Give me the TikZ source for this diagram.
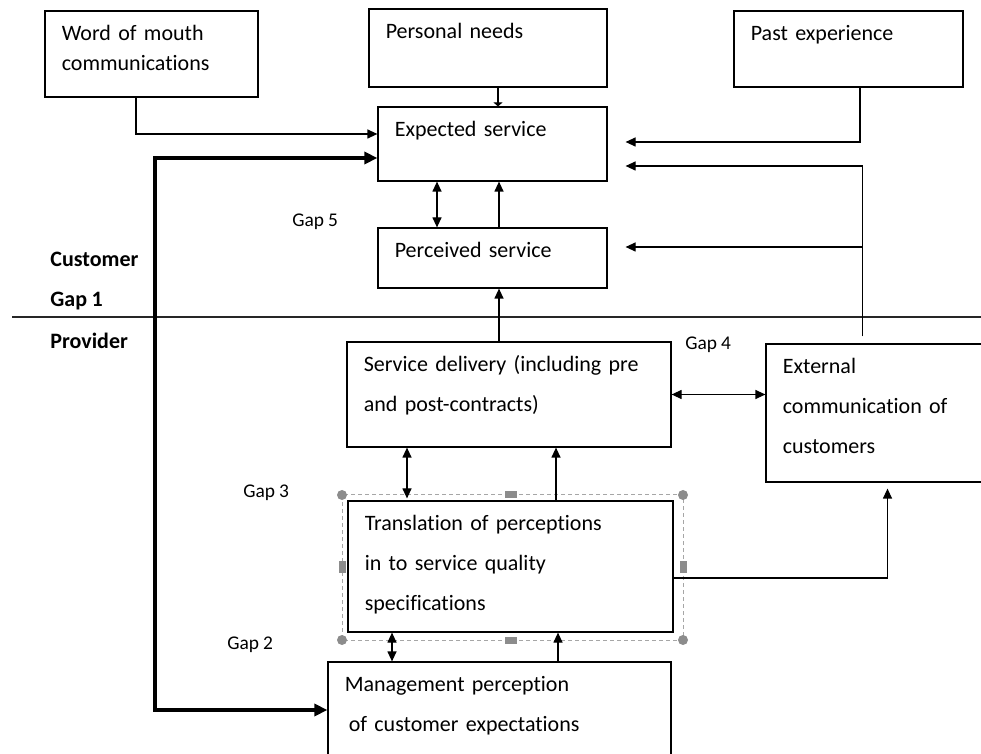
\documentclass[tikz,border=0pt]{standalone}
\usepackage{fontspec}
\setmainfont{Carlito}[Ligatures=NoCommon, WordSpace=0.9]
\usepackage{tikz}
\usetikzlibrary{positioning,arrows.meta,fit,calc}
\usepackage{xcolor}
\definecolor{handlegray}{HTML}{8C8C8C}
\definecolor{framegray}{HTML}{A6A6A6}

\begin{document}
\begin{tikzpicture}[
    x=0.5pt, y=-0.5pt,
    box/.style={draw, line width=0.6pt, inner sep=0pt},
    boxText/.style={anchor=base west, inner sep=0pt, xshift=8.5pt, yshift=-15pt, text width=6cm, align=left, font=\fontsize{11}{20}\selectfont},
    gapLabel/.style={anchor=base west, inner sep=0pt, font=\fontsize{9.7}{12}\selectfont},
    sideLabel/.style={anchor=base west, inner sep=0pt, font=\bfseries\fontsize{11}{13}\selectfont},
    link/.style={line width=0.6pt, -{Triangle[length=5pt, width=4.5pt]}},
    twoWay/.style={line width=0.6pt, {Triangle[length=5pt, width=4.5pt]}-{Triangle[length=5pt, width=4.5pt]}},
    thickRail/.style={line width=1.6pt, {Triangle[length=6.5pt, width=6pt]}-{Triangle[length=6.5pt, width=6pt]}}
]
    \useasboundingbox (0,0) rectangle (981,754);

    % Customer side boxes
    \node[box, fit={(45,11) (258,97)}, label={[boxText, font=\fontsize{11}{15}\selectfont]north west:{Word of mouth\\communications}}] (wom) {};
    \node[box, fit={(369,9) (607,87)}, label={[boxText]north west:Personal needs}] (needs) {};
    \node[box, fit={(734,11) (963,87)}, label={[boxText]north west:Past experience}] (past) {};
    \node[box, fit={(378,107) (607,181)}, label={[boxText]north west:Expected service}] (expected) {};
    \node[box, fit={(378,228) (607,288)}, label={[boxText]north west:Perceived service}] (perceived) {};

    % Provider side boxes
    \node[box, fit={(347,342) (671,447)}, label={[boxText]north west:{Service delivery (including pre\\and post-contracts)}}] (delivery) {};
    \node[box, fit={(766,344) (995,482)}, label={[boxText]north west:{External\\communication of\\customers}}] (external) {};
    \node[box, fit={(348,501) (673,632)}, label={[boxText]north west:{Translation of perceptions\\in to service quality\\specifications}}] (translation) {};
    \node[box, fit={(328,662) (671,770)}, label={[boxText]north west:{Management perception\\\hspace*{2pt}of customer expectations}}] (management) {};

    % Selection frame round the translation box
    \draw[framegray, line width=0.5pt, dash pattern=on 2pt off 1.5pt] (342,495) rectangle (683,640);
    \foreach \cx/\cy in {342/495, 683/495, 342/640, 683/640}
        \fill[handlegray] (\cx,\cy) circle (2.5pt);
    \foreach \cx/\cy in {511/495, 511/640}
        \fill[handlegray] (\cx-6,\cy-3.5) rectangle (\cx+6,\cy+3.5);
    \foreach \cx/\cy in {342/567, 683/567}
        \fill[handlegray] (\cx-3.5,\cy-6) rectangle (\cx+3.5,\cy+6);

    % Divider and side labels
    \draw[black!85, line width=0.7pt] (12,317) -- (981,317);
    \node[sideLabel] (customer) at (50,267) {Customer};
    \node[sideLabel] (gap1) at (50,307) {Gap 1};
    \node[sideLabel] (provider) at (50,349) {Provider};
    \node[gapLabel] (gap5) at (292,227) {Gap 5};
    \node[gapLabel] (gap4) at (685,350) {Gap 4};
    \node[gapLabel] (gap3) at (243,497) {Gap 3};
    \node[gapLabel] (gap2) at (227,649) {Gap 2};

    % Inputs to expected service
    \draw[link] ([xshift=-7.75pt]wom.south) |- ([yshift=5pt]expected.west);
    \draw[line width=0.6pt, -{Triangle[length=2pt, width=4.5pt]}] ([xshift=5pt]needs.south) -- ([xshift=5pt]needs.south |- expected.north);
    \draw[link, shorten >=9pt] ([xshift=5.75pt]past.south) |- ([yshift=1pt]expected.east);
    \coordinate (rail) at (155,400);
    \draw[thickRail] ([yshift=-7pt]expected.west) -| (rail) |- ([yshift=3pt]management.west);

    % Expected / perceived
    \draw[twoWay] ([xshift=-27.75pt]expected.south) -- ([xshift=-27.75pt]expected.south |- perceived.north);
    \draw[link] ([xshift=3.25pt]perceived.north) -- ([xshift=3.25pt]perceived.north |- expected.south);
    \draw[link] ([xshift=-5pt]delivery.north) -- ([xshift=-5pt]delivery.north |- perceived.south);

    % External communication feeds back
    \coordinate (extUp) at ([xshift=-9pt, yshift=3.5pt]external.north);
    \draw[link, shorten >=9pt] (extUp) |- ([yshift=-11pt]expected.east);
    \draw[link, shorten >=9pt] ([yshift=5.5pt]perceived.east -| extUp) -- ([yshift=5.5pt]perceived.east);
    \draw[twoWay] (delivery.east) -- (delivery.east -| external.west);

    % Provider chain
    \draw[twoWay, shorten >=1pt] ([xshift=-51pt]delivery.south) -- ([xshift=-51pt]delivery.south |- translation.north);
    \draw[link] ([xshift=23.5pt]delivery.south |- translation.north) -- ([xshift=23.5pt]delivery.south);
    \draw[link, shorten >=3pt] ([yshift=-5.75pt]translation.east) -| ([xshift=3.5pt]external.south);
    \draw[twoWay] ([xshift=-59.25pt]translation.south) -- ([xshift=-59.25pt]translation.south |- management.north);
    \draw[link] ([xshift=23.75pt]translation.south |- management.north) -- ([xshift=23.75pt]translation.south);
\end{tikzpicture}
\end{document}
